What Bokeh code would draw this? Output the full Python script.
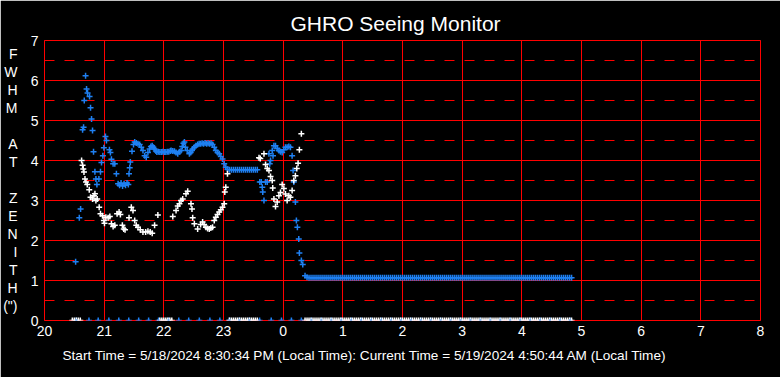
from bokeh.plotting import figure
from bokeh.models import FixedTicker, Grid, LinearAxis, Title
from bokeh.embed import file_html
from bokeh.resources import INLINE

# ---------------- data (time = minutes after 20:00 local) ----------------
blue_t = [31.3, 35.0, 36.3, 38.3, 39.3, 40.0, 41.3, 42.3, 43.3, 45.3, 46.3, 47.3, 48.3, 49.3,
          50.7, 51.7, 52.7, 54.7, 56.3, 57.3, 58.7, 59.7, 61.3, 62.3, 65.3, 66.3, 67.3, 69.0,
          70.7, 72.3, 74.0, 75.5, 77.0, 78.5, 80.0, 81.5, 83.0, 84.3, 85.0, 85.7, 86.3, 88.0,
          89.5, 90.7, 92.3, 94.0, 95.7, 97.3, 99.0, 100.7, 102.3, 104.0, 105.7, 107.0, 108.3,
          109.5, 110.7, 112.0, 113.0, 114.5, 116.0, 117.5, 119.0, 120.5, 122.0, 123.5, 125.0,
          126.5, 127.3, 129.0, 130.7, 132.3, 134.0, 135.7, 137.3, 138.5, 139.7, 140.7, 141.7,
          143.5, 145.7, 147.0, 148.3, 149.0, 150.7, 152.3, 154.0, 155.5, 157.0, 158.5, 160.0,
          161.5, 163.0, 164.5, 166.0, 167.5, 169.0, 170.7, 172.3, 174.0, 175.7, 177.3, 179.0,
          180.7, 182.3, 184.0,
          186, 188, 190, 192, 194, 196, 198, 200, 202, 204, 206, 208, 210, 212, 214,
          216.5, 218.0, 219.0, 219.5, 220.7, 222.3, 224.0, 225.7, 226.5, 227.3, 229.0, 229.8,
          230.7, 232.3, 234.0, 235.7, 237.3, 239.0, 240.7, 242.3, 244.0, 245.7, 247.3, 249.0,
          250.0, 250.7, 252.3, 253.3, 254.3, 255.7, 256.3, 258.3, 259.7,
          262, 264, 266, 268, 270, 272, 274, 276, 278, 280, 282, 284, 286, 288, 290, 292, 294,
          296, 298, 300, 302, 304, 306, 308, 310, 312, 314, 316, 318, 320, 322, 324, 326, 328,
          330, 332, 334, 336, 338, 340, 342, 344, 346, 348, 350, 352, 354, 356, 358, 360, 362,
          364, 366, 368, 370, 372, 374, 376, 378, 380, 382, 384, 386, 388, 390, 392, 394, 396,
          398, 400, 402, 404, 406, 408, 410, 412, 414, 416, 418, 420, 422, 424, 426, 428, 430,
          432, 434, 436, 438, 440, 442, 444, 446, 448, 450, 452, 454, 456, 458, 460, 462, 464,
          466, 468, 470, 472, 474, 476, 478, 480, 482, 484, 486, 488, 490, 492, 494, 496, 498,
          500, 502, 504, 506, 508, 510, 512, 514, 516, 518, 520, 522, 524, 526, 528, 530]
blue_v = [1.47, 2.57, 2.79, 4.77, 4.83, 5.50, 6.12, 5.79, 5.69, 5.60, 5.32, 5.04, 4.75, 4.22,
          3.72, 3.54, 3.40, 3.54, 3.72, 3.95, 4.12, 4.32, 4.60, 4.50, 4.27, 4.20, 4.03, 3.92,
          3.92, 3.67, 3.42, 3.38, 3.44, 3.36, 3.42, 3.38, 3.44, 3.40, 3.67, 3.82, 3.96, 4.23,
          4.40, 4.46, 4.44, 4.42, 4.40, 4.33, 4.25, 4.12, 4.08, 4.20, 4.29, 4.35, 4.37,
          4.33, 4.29, 4.24, 4.21, 4.22, 4.21, 4.21, 4.22, 4.21, 4.21, 4.22, 4.22,
          4.24, 4.25, 4.24, 4.23, 4.20, 4.17, 4.22, 4.25, 4.35, 4.43, 4.46, 4.33,
          4.25, 4.17, 4.20, 4.25, 4.29, 4.33, 4.37, 4.40, 4.42, 4.42, 4.43, 4.42,
          4.44, 4.42, 4.43, 4.42, 4.43, 4.40, 4.33, 4.25, 4.20, 4.17, 4.10, 4.04,
          3.92, 3.83, 3.78,
          3.77, 3.77, 3.77, 3.77, 3.77, 3.77, 3.77, 3.77, 3.77, 3.77, 3.77, 3.77, 3.77, 3.77, 3.77,
          3.46, 3.46, 3.33, 3.21, 3.00, 3.46, 3.46, 4.17, 3.92, 4.00, 4.25, 4.12,
          4.37, 4.37, 4.30, 4.25, 4.22, 4.20, 4.27, 4.33, 4.33, 4.35, 4.33, 4.12,
          3.75, 3.46, 2.96, 2.50, 2.33, 2.04, 1.69, 1.50, 1.40,
          1.12, 1.08, 1.07, 1.07, 1.07, 1.07, 1.07, 1.07, 1.07, 1.07, 1.07, 1.07, 1.07, 1.07, 1.07, 1.07, 1.07,
          1.07, 1.07, 1.07, 1.07, 1.07, 1.07, 1.07, 1.07, 1.07, 1.07, 1.07, 1.07, 1.07, 1.07, 1.07, 1.07, 1.07,
          1.07, 1.07, 1.07, 1.07, 1.07, 1.07, 1.07, 1.07, 1.07, 1.07, 1.07, 1.07, 1.07, 1.07, 1.07, 1.07, 1.07,
          1.07, 1.07, 1.07, 1.07, 1.07, 1.07, 1.07, 1.07, 1.07, 1.07, 1.07, 1.07, 1.07, 1.07, 1.07, 1.07, 1.07,
          1.07, 1.07, 1.07, 1.07, 1.07, 1.07, 1.07, 1.07, 1.07, 1.07, 1.07, 1.07, 1.07, 1.07, 1.07, 1.07, 1.07,
          1.07, 1.07, 1.07, 1.07, 1.07, 1.07, 1.07, 1.07, 1.07, 1.07, 1.07, 1.07, 1.07, 1.07, 1.07, 1.07, 1.07,
          1.07, 1.07, 1.07, 1.07, 1.07, 1.07, 1.07, 1.07, 1.07, 1.07, 1.07, 1.07, 1.07, 1.07, 1.07, 1.07, 1.07,
          1.07, 1.07, 1.07, 1.07, 1.07, 1.07, 1.07, 1.07, 1.07, 1.07, 1.07, 1.07, 1.07, 1.07, 1.07, 1.07]

white_t = [28, 30, 32, 34, 36,
           37.3, 38.3, 39.0, 39.7, 40.7, 41.7, 43.0, 45.0, 46.3, 48.3, 49.7, 50.7, 51.7, 53.0,
           55.0, 56.3, 58.3, 59.7, 60.3, 61.7, 64.0, 65.7, 67.3, 69.0, 70.7, 73.0, 75.0, 76.3,
           78.3, 79.7, 81.0, 85.0, 87.3, 89.0, 90.7, 92.3, 94.0, 96.3, 99.0, 101.7, 104.0,
           106.3, 108.3, 110.7, 114.0,
           116, 118, 120, 122, 124, 126, 128,
           129.0, 132.3, 134.0, 135.7, 137.3, 139.0, 142.3, 144.0, 147.3, 148.3, 149.0, 150.7,
           154.0, 157.0, 159.0, 160.5, 162.3, 164.0, 165.7, 167.3, 169.0, 170.7, 172.3, 174.0,
           175.7, 177.3, 179.0, 180.7, 181.3, 182.3, 184.0,
           186, 188, 190, 192, 194, 196, 198, 200, 202, 204, 206, 208, 210, 212, 214,
           215.7, 217.0, 220.7, 222.3, 224.0, 225.7, 227.3, 229.0, 229.5, 230.7, 232.3, 234.0,
           235.7, 237.3, 239.0, 240.7, 242.3, 244.0, 245.7, 247.3, 249.0, 250.7, 252.3, 253.7,
           255.0, 256.3, 258.3,
           262, 264, 266, 268, 270, 272, 274, 276, 278, 280, 282, 284, 286, 288, 290, 292, 294,
           296, 298, 300, 302, 304, 306, 308, 310, 312, 314, 316, 318, 320, 322, 324, 326, 328,
           330, 332, 334, 336, 338, 340, 342, 344, 346, 348, 350, 352, 354, 356, 358, 360, 362,
           364, 366, 368, 370, 372, 374, 376, 378, 380, 382, 384, 386, 388, 390, 392, 394, 396,
           398, 400, 402, 404, 406, 408, 410, 412, 414, 416, 418, 420, 422, 424, 426, 428, 430,
           432, 434, 436, 438, 440, 442, 444, 446, 448, 450, 452, 454, 456, 458, 460, 462, 464,
           466, 468, 470, 472, 474, 476, 478, 480, 482, 484, 486, 488, 490, 492, 494, 496, 498,
           500, 502, 504, 506, 508, 510, 512, 514, 516, 518, 520, 522, 524, 526, 528, 530]
white_v = [0, 0, 0, 0, 0,
           4.00, 3.88, 3.79, 3.71, 3.54, 3.46, 3.40, 3.27, 3.08, 3.04, 3.12, 3.17, 3.00, 3.04,
           2.83, 2.67, 2.62, 2.50, 2.43, 2.58, 2.57, 2.60, 2.42, 2.35, 2.38, 2.67, 2.71, 2.65,
           2.38, 2.29, 2.27, 2.57, 2.83, 2.75, 2.50, 2.38, 2.33, 2.27, 2.21, 2.21, 2.23,
           2.21, 2.18, 2.38, 2.64,
           0, 0, 0, 0, 0, 0, 0,
           2.60, 2.75, 2.86, 2.92, 3.00, 3.04, 3.17, 3.23, 2.92, 2.79, 2.57, 2.42,
           2.29, 2.40, 2.46, 2.40, 2.33, 2.30, 2.29, 2.31, 2.33, 2.50, 2.58, 2.65,
           2.71, 2.77, 2.83, 2.92, 3.21, 3.33, 3.67,
           0, 0, 0, 0, 0, 0, 0, 0, 0, 0, 0, 0, 0, 0, 0,
           4.07, 4.05, 4.17, 3.90, 3.80, 3.75, 3.60, 3.50, 3.31, 3.04, 2.85, 2.96,
           3.12, 3.20, 3.40, 3.30, 3.16, 3.00, 3.12, 3.08, 3.25, 3.50, 3.62, 3.80,
           3.93, 4.27, 4.67,
           0, 0, 0, 0, 0, 0, 0, 0, 0, 0, 0, 0, 0, 0, 0, 0, 0,
           0, 0, 0, 0, 0, 0, 0, 0, 0, 0, 0, 0, 0, 0, 0, 0, 0,
           0, 0, 0, 0, 0, 0, 0, 0, 0, 0, 0, 0, 0, 0, 0, 0, 0,
           0, 0, 0, 0, 0, 0, 0, 0, 0, 0, 0, 0, 0, 0, 0, 0, 0,
           0, 0, 0, 0, 0, 0, 0, 0, 0, 0, 0, 0, 0, 0, 0, 0, 0,
           0, 0, 0, 0, 0, 0, 0, 0, 0, 0, 0, 0, 0, 0, 0, 0, 0,
           0, 0, 0, 0, 0, 0, 0, 0, 0, 0, 0, 0, 0, 0, 0, 0, 0,
           0, 0, 0, 0, 0, 0, 0, 0, 0, 0, 0, 0, 0, 0, 0, 0]

blue_zero_t = [32.0, 44.7, 54.0, 64.7, 74.7, 84.7, 94.7, 104.7, 114.7, 124.7, 135.0, 145.0,
               155.7, 166.3, 176.3, 186.0, 196.0, 206.0, 216.3, 228.0, 238.3, 248.3, 258.3,
               268.3, 278.3, 288.3, 298.3, 308.3, 318.3, 328.3, 338.3, 348.3, 358.3, 368.3,
               378.3, 388.3, 398.3, 408.3, 418.3, 428.3, 438.3, 448.3, 458.3, 468.3, 478.3,
               488.3, 498.3, 508.3, 518.3, 528.3]
blue_zero_v = [0] * len(blue_zero_t)

x_ticks = [20, 21, 22, 23, 24, 25, 26, 27, 28, 29, 30, 31, 32]
x_tick_labels = ["20", "21", "22", "23", "0", "1", "2", "3", "4", "5", "6", "7", "8"]
y_ticks = [0, 1, 2, 3, 4, 5, 6, 7]
y_half_ticks = [0.5, 1.5, 2.5, 3.5, 4.5, 5.5, 6.5]

title_text = "GHRO Seeing Monitor"
footer_text = ("Start Time = 5/18/2024 8:30:34 PM (Local Time):  "
               "Current Time = 5/19/2024 4:50:44 AM (Local Time)")
ylabel_letters = ["F", "W", "H", "M", "", "A", "T", "", "Z", "E", "N", "I", "T", "H", '(")']

# ---------------- plot ----------------
BLUE = "#1f80f2"
FONT = "Liberation Sans"


def hours(ts):
    return [20 + t / 60.0 for t in ts]


p = figure(width=780, height=377, x_range=(20, 32), y_range=(0, 7),
           output_backend="svg", toolbar_location=None,
           background_fill_color="black", border_fill_color="black",
           min_border_left=41, min_border_right=20, min_border_top=40, min_border_bottom=57,
           outline_line_color="red", outline_line_width=1)

p.title.text = title_text
p.title.align = "left"
p.title.offset = 246
p.title.text_color = "white"
p.title.text_font = FONT
p.title.text_font_size = "21px"
p.title.text_font_style = "normal"
p.title.standoff = 11

for ax in (p.xaxis, p.yaxis):
    ax.major_tick_line_color = None
    ax.minor_tick_line_color = None
    ax.major_tick_out = 0
    ax.major_tick_in = 0
    ax.minor_tick_out = 0
    ax.minor_tick_in = 0
    ax.axis_line_color = None
    ax.major_label_text_color = "white"
    ax.major_label_text_font = FONT
    ax.major_label_text_font_size = "14px"

p.xaxis.ticker = FixedTicker(ticks=x_ticks)
p.xaxis.major_label_overrides = {t: l for t, l in zip(x_ticks, x_tick_labels)}
p.xaxis.major_label_standoff = 5
p.yaxis.ticker = FixedTicker(ticks=y_ticks)
p.yaxis.major_label_standoff = 6

# stacked vertical-letter axis title, drawn as a second left axis
letter_pos = {}
for i, ch in enumerate(ylabel_letters):
    if ch:
        letter_pos[round(6.67 - 0.45 * i, 2)] = ch
letters_axis = LinearAxis(ticker=FixedTicker(ticks=list(letter_pos.keys())),
                          major_label_overrides=letter_pos,
                          axis_line_color=None, major_tick_line_color=None,
                          minor_tick_line_color=None, major_tick_out=0, major_tick_in=0,
                          minor_tick_out=0, minor_tick_in=0,
                          major_label_text_color="white", major_label_text_font=FONT,
                          major_label_text_font_size="14px", major_label_standoff=10)
p.add_layout(letters_axis, "left")

footer = Title(text=footer_text, align="left", offset=18, text_color="white",
               text_font=FONT, text_font_size="13.6px", text_font_style="normal", standoff=15)
p.add_layout(footer, "below")

p.xgrid.ticker = FixedTicker(ticks=x_ticks)
p.ygrid.ticker = FixedTicker(ticks=y_ticks)
p.grid.grid_line_color = "red"
p.grid.grid_line_width = 1
half = Grid(dimension=1, ticker=FixedTicker(ticks=y_half_ticks),
            grid_line_color="red", grid_line_width=1, grid_line_dash="10 10")
p.add_layout(half)

p.scatter(hours(blue_zero_t), blue_zero_v, marker="cross", size=6,
          line_color=BLUE, line_width=1.5)
p.scatter(hours(blue_t), blue_v, marker="cross", size=6, line_color=BLUE, line_width=1.5)
p.scatter(hours(white_t), white_v, marker="cross", size=6, line_color="white", line_width=1.5)
p.scatter(hours(blue_zero_t), blue_zero_v, marker="square", size=2,
          line_color=None, fill_color=BLUE)

open("out.html", "w").write(file_html(p, INLINE))
